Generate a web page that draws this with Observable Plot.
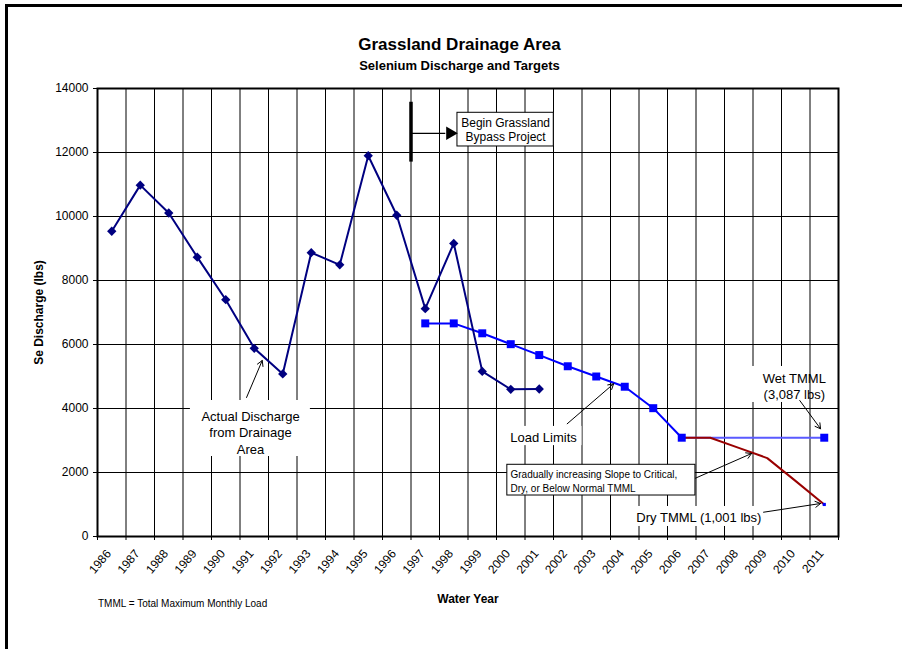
<!DOCTYPE html>
<html>
<head>
<meta charset="utf-8">
<script src="https://cdn.jsdelivr.net/npm/d3@7"></script>
<script src="https://cdn.jsdelivr.net/npm/@observablehq/plot@0.6"></script>
<style>
  body { margin: 0; background: #fff; font-family: Arial, "Liberation Sans", sans-serif; }
  #wrap { position: relative; width: 902px; height: 649px; overflow: hidden; background: #fff; }
  #frame { position: absolute; left: 5px; top: 4px; width: 1000px; height: 1000px;
           border-top: 3px solid #000; border-left: 3px solid #000; }
  #chart { position: absolute; left: 0; top: 0; }
  .title { position: absolute; left: 0; width: 919px; text-align: center; font-weight: bold; color: #000; }
  #t1 { top: 36px; font-size: 17px; line-height: 17px; }
  #t2 { top: 59px; font-size: 13px; line-height: 13px; }
  #note { position: absolute; left: 98px; top: 599px; font-size: 10px; line-height: 10px; color: #000; }
  g[aria-label="y-axis label"], g[aria-label="x-axis label"] { font-weight: bold; }
</style>
</head>
<body>
<div id="wrap">
  <div id="frame"></div>
  <div id="chart"></div>
  <div class="title" id="t1">Grassland Drainage Area</div>
  <div class="title" id="t2">Selenium Discharge and Targets</div>
  <div id="note">TMML = Total Maximum Monthly Load</div>
</div>
<script>
// ---- categories ----
const years = [1986,1987,1988,1989,1990,1991,1992,1993,1994,1995,1996,1997,1998,1999,2000,2001,2002,2003,2004,2005,2006,2007,2008,2009,2010,2011];
const yTicks = [0,2000,4000,6000,8000,10000,12000,14000];

// ---- series ----
const dischargeYears = [1986,1987,1988,1989,1990,1991,1992,1993,1994,1995,1996,1997,1998,1999,2000,2001];
const dischargeValues = [9540,10980,10110,8730,7400,5880,5080,8870,8490,11900,10040,7120,9160,5160,4600,4610];

const loadYears = [1997,1998,1999,2000,2001,2002,2003,2004,2005,2006];
const loadValues = [6660,6660,6350,6010,5670,5320,5000,4680,4010,3087];

const wetYears = [2006,2011];
const wetValues = [3087,3087];

const dryYears = [2006,2007,2008,2009,2010,2011];
const dryValues = [3087,3087,2770,2450,1730,1001];

// ---- annotations (data coordinates) ----
const bypassBar = [{x: 1996.5, y1: 11700, y2: 13570}];
const bypassArrow = [{x1: 1996.5, x2: 1997.72, y: 12600}];
const bypassHead = [{x: 1997.87, y: 12600}];
const borderedBoxes = [
  {x1: 1998.13, x2: 2001.51, y1: 12188, y2: 13241},
  {x1: 1999.88, x2: 2006.48, y1: 1281, y2: 2241}
];
const plainBoxes = [
  {x1: 1988.76, x2: 1992.97, y1: 2500, y2: 4250},
  {x1: 1999.85, x2: 2002.5, y1: 2840, y2: 3440},
  {x1: 2007.64, x2: 2010.17, y1: 4188, y2: 5313},
  {x1: 2004.27, x2: 2008.94, y1: 313, y2: 938}
];
const bigLabels = [
  {x: 1990.87, y: 3266, text: "Actual Discharge\nfrom Drainage\nArea"},
  {x: 2001.15, y: 3134, text: "Load Limits"},
  {x: 2009.95, y: 4719, text: "Wet TMML\n(3,087 lbs)"},
  {x: 2006.6, y: 625, text: "Dry TMML (1,001 lbs)"}
];
const bypassLabel = [{x: 1999.82, y: 12720, text: "Begin Grassland\nBypass Project"}];
const slopeLabel = [{x: 1999.99, y: 1741, text: "Gradually increasing Slope to Critical,\nDry, or Below Normal TMML"}];
const pointers = [
  {x1: 1990.73, y1: 4344, x2: 1991.28, y2: 5500},
  {x1: 2001.98, y1: 3522, x2: 2003.61, y2: 4772},
  {x1: 2010.14, y1: 4250, x2: 2010.87, y2: 3366},
  {x1: 2006.48, y1: 1822, x2: 2008.45, y2: 2594},
  {x1: 2008.87, y1: 759, x2: 2010.87, y2: 1031}
];

// ---- tables ----
const toRows = (xs, ys) => xs.map((x, i) => ({x, y: ys[i]}));
const discharge = toRows(dischargeYears, dischargeValues);
const load = toRows(loadYears, loadValues);
const wet = toRows(wetYears, wetValues);
const dry = toRows(dryYears, dryValues);
const boundaries = [years[0] - 0.5, ...years.map(y => y + 0.5)];
const gridY = yTicks.slice(1, -1);

const font = "Arial, 'Liberation Sans', sans-serif";

const chart = Plot.plot({
  width: 902,
  height: 649,
  marginLeft: 97,
  marginRight: 64,
  marginTop: 88,
  marginBottom: 113,
  style: {fontFamily: font, fontSize: "12px", color: "#000", background: "transparent", overflow: "visible"},
  x: {domain: [years[0] - 0.5, years[years.length - 1] + 0.5]},
  y: {domain: [yTicks[0], yTicks[yTicks.length - 1]]},
  marks: [
    Plot.ruleY(gridY, {stroke: "#000", strokeWidth: 1}),
    Plot.ruleX(boundaries, {stroke: "#000", strokeWidth: 1}),
    Plot.frame({stroke: "#000", strokeWidth: 2}),
    Plot.axisY(yTicks, {tickSize: 4, tickPadding: 5, tickFormat: d => String(d), fontSize: 12,
      label: "Se Discharge (lbs)", labelAnchor: "center", labelOffset: 63, labelArrow: "none"}),
    Plot.axisX(boundaries, {tickSize: 4, tickFormat: () => "", label: null}),
    Plot.axisX(years, {tickSize: 0, tickPadding: 15, dx: -3, tickRotate: -50, tickFormat: d => String(d), fontSize: 12,
      label: "Water Year", labelAnchor: "center", labelOffset: 66, labelArrow: "none"}),
    // white label boxes
    Plot.rect(plainBoxes, {x1: "x1", x2: "x2", y1: "y1", y2: "y2", fill: "white"}),
    Plot.rect(borderedBoxes, {x1: "x1", x2: "x2", y1: "y1", y2: "y2", fill: "white", stroke: "#000", strokeWidth: 1}),
    // bypass marker
    Plot.ruleX(bypassBar, {x: "x", y1: "y1", y2: "y2", stroke: "#000", strokeWidth: 3.5}),
    Plot.ruleY(bypassArrow, {y: "y", x1: "x1", x2: "x2", stroke: "#000", strokeWidth: 1.2}),
    Plot.dot(bypassHead, {x: "x", y: "y", symbol: "triangle", rotate: 90, r: 5, fill: "#000"}),
    // series
    Plot.line(wet, {x: "x", y: "y", stroke: "#5a5aff", strokeWidth: 2}),
    Plot.line(dry, {x: "x", y: "y", stroke: "#990000", strokeWidth: 2}),
    Plot.line(load, {x: "x", y: "y", stroke: "#0000ff", strokeWidth: 2}),
    Plot.dot(load, {x: "x", y: "y", symbol: "square", r: 4.5, fill: "#0000ff"}),
    Plot.dot(wet.slice(-1), {x: "x", y: "y", symbol: "square", r: 4.5, fill: "#0000ff"}),
    Plot.dot(dry.slice(-1), {x: "x", y: "y", symbol: "square", r: 1.8, fill: "#0000ff"}),
    Plot.line(discharge, {x: "x", y: "y", stroke: "#000080", strokeWidth: 2}),
    Plot.dot(discharge, {x: "x", y: "y", symbol: "diamond2", r: 4.2, fill: "#000080"}),
    // pointers
    Plot.arrow(pointers, {x1: "x1", y1: "y1", x2: "x2", y2: "y2", stroke: "#000", strokeWidth: 1, headLength: 9}),
    // labels
    Plot.text(bigLabels, {x: "x", y: "y", text: "text", fontSize: 13, lineHeight: 1.28, fill: "#000"}),
    Plot.text(bypassLabel, {x: "x", y: "y", text: "text", fontSize: 12, lineHeight: 1.2, fill: "#000"}),
    Plot.text(slopeLabel, {x: "x", y: "y", text: "text", fontSize: 10, lineHeight: 1.4, textAnchor: "start", fill: "#000"})
  ]
});
document.getElementById("chart").appendChild(chart);
</script>
</body>
</html>
